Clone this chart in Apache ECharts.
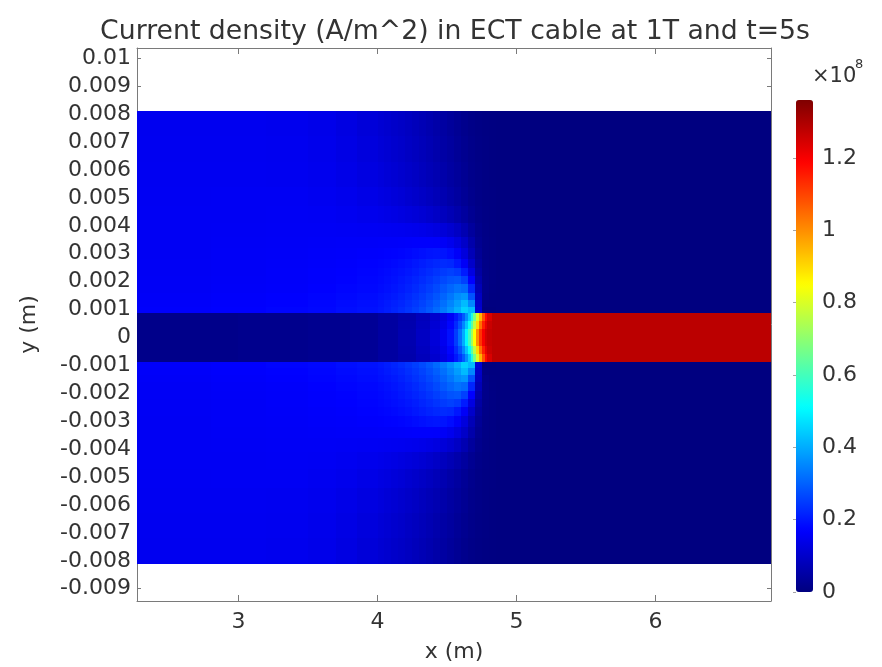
<!DOCTYPE html>
<html>
<head>
<meta charset="utf-8">
<script src="https://cdn.jsdelivr.net/npm/echarts@6/dist/echarts.min.js"></script>
<style>
html,body{margin:0;padding:0;background:#fff;}
#chart{width:882px;height:667px;}
</style>
</head>
<body>
<div id="chart"></div>
<script>
// ---- Data (current density in units of 1e8 A/m^2) ----
const xTicks = [3, 4, 5, 6];
const yTicks = [0.01, 0.009, 0.008, 0.007, 0.006, 0.005, 0.004, 0.003, 0.002, 0.001, 0,
  -0.001, -0.002, -0.003, -0.004, -0.005, -0.006, -0.007, -0.008, -0.009];
const colorTicks = [0, 0.2, 0.4, 0.6, 0.8, 1, 1.2];

// outer region (around the conductor): column edges in x (m)
const xEdgesOuter = [2.27, 2.8, 3.2, 3.5, 3.7, 3.85, 4.0,
  4.05, 4.1, 4.15, 4.2, 4.25, 4.3, 4.35, 4.4, 4.45, 4.5, 4.55, 4.6, 4.65, 4.7, 4.75, 4.8, 4.85,
  4.95, 5.1, 6.83];
// upper half row edges (top -> conductor surface)
const yEdgesUpper = [0.0081, 0.0072, 0.0063, 0.0054, 0.0047, 0.0041, 0.0036, 0.0032, 0.0028,
  0.0025, 0.0022, 0.0019, 0.0016, 0.00135, 0.0011, 0.00087];
const upperValues = [
  [0.15, 0.15, 0.148, 0.142, 0.132, 0.12, 0.112, 0.106, 0.1, 0.094, 0.087, 0.08, 0.072, 0.064, 0.055, 0.046, 0.037, 0.028, 0.019, 0.012, 0.008, 0.005, 0.004, 0.003, 0.002, 0.001],
  [0.152, 0.152, 0.15, 0.145, 0.136, 0.125, 0.117, 0.111, 0.105, 0.099, 0.092, 0.085, 0.077, 0.069, 0.06, 0.051, 0.042, 0.032, 0.022, 0.014, 0.009, 0.006, 0.004, 0.003, 0.002, 0.001],
  [0.153, 0.153, 0.152, 0.148, 0.14, 0.13, 0.123, 0.117, 0.111, 0.105, 0.098, 0.091, 0.083, 0.075, 0.066, 0.057, 0.047, 0.037, 0.026, 0.016, 0.01, 0.006, 0.004, 0.003, 0.002, 0.001],
  [0.154, 0.155, 0.155, 0.152, 0.146, 0.138, 0.132, 0.127, 0.121, 0.115, 0.108, 0.101, 0.093, 0.085, 0.076, 0.066, 0.055, 0.044, 0.031, 0.019, 0.011, 0.007, 0.005, 0.003, 0.002, 0.001],
  [0.155, 0.156, 0.157, 0.156, 0.152, 0.146, 0.142, 0.138, 0.134, 0.129, 0.124, 0.118, 0.111, 0.103, 0.094, 0.084, 0.072, 0.058, 0.042, 0.025, 0.013, 0.008, 0.005, 0.003, 0.002, 0.001],
  [0.155, 0.157, 0.158, 0.158, 0.157, 0.155, 0.154, 0.153, 0.152, 0.15, 0.148, 0.145, 0.141, 0.136, 0.129, 0.12, 0.108, 0.092, 0.068, 0.04, 0.018, 0.009, 0.005, 0.003, 0.002, 0.001],
  [0.156, 0.158, 0.16, 0.161, 0.162, 0.162, 0.163, 0.163, 0.164, 0.165, 0.166, 0.167, 0.168, 0.168, 0.166, 0.16, 0.148, 0.128, 0.098, 0.058, 0.024, 0.01, 0.006, 0.003, 0.002, 0.001],
  [0.156, 0.159, 0.161, 0.163, 0.165, 0.167, 0.169, 0.171, 0.173, 0.176, 0.18, 0.185, 0.19, 0.195, 0.198, 0.196, 0.185, 0.162, 0.125, 0.075, 0.03, 0.011, 0.006, 0.003, 0.002, 0.001],
  [0.157, 0.16, 0.162, 0.165, 0.168, 0.171, 0.174, 0.177, 0.181, 0.186, 0.192, 0.199, 0.207, 0.215, 0.222, 0.226, 0.222, 0.2, 0.16, 0.1, 0.038, 0.012, 0.006, 0.003, 0.002, 0.001],
  [0.157, 0.16, 0.163, 0.167, 0.17, 0.174, 0.178, 0.182, 0.187, 0.193, 0.2, 0.208, 0.218, 0.228, 0.238, 0.248, 0.255, 0.245, 0.205, 0.13, 0.048, 0.013, 0.006, 0.003, 0.002, 0.001],
  [0.158, 0.161, 0.164, 0.168, 0.172, 0.177, 0.181, 0.186, 0.192, 0.199, 0.207, 0.217, 0.228, 0.24, 0.253, 0.267, 0.28, 0.285, 0.255, 0.17, 0.06, 0.014, 0.006, 0.003, 0.002, 0.001],
  [0.158, 0.162, 0.165, 0.17, 0.175, 0.18, 0.185, 0.19, 0.197, 0.205, 0.214, 0.225, 0.238, 0.252, 0.268, 0.286, 0.305, 0.322, 0.31, 0.22, 0.075, 0.015, 0.005, 0.003, 0.002, 0.001],
  [0.161, 0.165, 0.169, 0.174, 0.179, 0.185, 0.191, 0.197, 0.204, 0.213, 0.223, 0.235, 0.249, 0.265, 0.283, 0.304, 0.328, 0.357, 0.37, 0.28, 0.09, 0.012, 0.004, 0.003, 0.002, 0.001],
  [0.164, 0.168, 0.172, 0.177, 0.183, 0.189, 0.196, 0.203, 0.211, 0.22, 0.231, 0.244, 0.259, 0.276, 0.296, 0.319, 0.346, 0.38, 0.42, 0.35, 0.1, 0.005, 0.002, 0.003, 0.002, 0.001],
  [0.166, 0.17, 0.175, 0.18, 0.187, 0.193, 0.2, 0.208, 0.217, 0.227, 0.239, 0.253, 0.269, 0.288, 0.31, 0.335, 0.365, 0.403, 0.45, 0.42, 0.11, 0.0, 0.0, 0.003, 0.002, 0.001]
];
// lower half row edges (conductor surface -> bottom)
const yEdgesLower = [-0.00087, -0.0011, -0.00135, -0.0016, -0.0019, -0.0022, -0.0025, -0.0028,
  -0.0032, -0.0036, -0.0041, -0.0047, -0.0054, -0.0063, -0.0072, -0.0081];
const lowerValues = [
  [0.166, 0.17, 0.175, 0.18, 0.187, 0.193, 0.2, 0.208, 0.217, 0.227, 0.239, 0.253, 0.269, 0.288, 0.31, 0.335, 0.365, 0.403, 0.45, 0.42, 0.11, 0.0, 0.0, 0.003, 0.002, 0.001],
  [0.164, 0.168, 0.172, 0.177, 0.183, 0.189, 0.196, 0.203, 0.211, 0.22, 0.231, 0.244, 0.259, 0.276, 0.296, 0.319, 0.346, 0.38, 0.42, 0.35, 0.1, 0.005, 0.002, 0.003, 0.002, 0.001],
  [0.161, 0.165, 0.169, 0.174, 0.179, 0.185, 0.191, 0.197, 0.204, 0.213, 0.223, 0.235, 0.249, 0.265, 0.283, 0.304, 0.328, 0.357, 0.37, 0.28, 0.09, 0.012, 0.004, 0.003, 0.002, 0.001],
  [0.158, 0.162, 0.165, 0.17, 0.175, 0.18, 0.185, 0.19, 0.197, 0.205, 0.214, 0.225, 0.238, 0.252, 0.268, 0.286, 0.305, 0.322, 0.31, 0.22, 0.075, 0.015, 0.005, 0.003, 0.002, 0.001],
  [0.158, 0.161, 0.164, 0.168, 0.172, 0.177, 0.181, 0.186, 0.192, 0.199, 0.207, 0.217, 0.228, 0.24, 0.253, 0.267, 0.28, 0.285, 0.255, 0.17, 0.06, 0.014, 0.006, 0.003, 0.002, 0.001],
  [0.157, 0.16, 0.163, 0.167, 0.17, 0.174, 0.178, 0.182, 0.187, 0.193, 0.2, 0.208, 0.218, 0.228, 0.238, 0.248, 0.255, 0.245, 0.205, 0.13, 0.048, 0.013, 0.006, 0.003, 0.002, 0.001],
  [0.157, 0.16, 0.162, 0.165, 0.168, 0.171, 0.174, 0.177, 0.181, 0.186, 0.192, 0.199, 0.207, 0.215, 0.222, 0.226, 0.222, 0.2, 0.16, 0.1, 0.038, 0.012, 0.006, 0.003, 0.002, 0.001],
  [0.156, 0.159, 0.161, 0.163, 0.165, 0.167, 0.169, 0.171, 0.173, 0.176, 0.18, 0.185, 0.19, 0.195, 0.198, 0.196, 0.185, 0.162, 0.125, 0.075, 0.03, 0.011, 0.006, 0.003, 0.002, 0.001],
  [0.156, 0.158, 0.16, 0.161, 0.162, 0.162, 0.163, 0.163, 0.164, 0.165, 0.166, 0.167, 0.168, 0.168, 0.166, 0.16, 0.148, 0.128, 0.098, 0.058, 0.024, 0.01, 0.006, 0.003, 0.002, 0.001],
  [0.155, 0.157, 0.158, 0.158, 0.157, 0.155, 0.154, 0.153, 0.152, 0.15, 0.148, 0.145, 0.141, 0.136, 0.129, 0.12, 0.108, 0.092, 0.068, 0.04, 0.018, 0.009, 0.005, 0.003, 0.002, 0.001],
  [0.155, 0.156, 0.157, 0.156, 0.152, 0.146, 0.142, 0.138, 0.134, 0.129, 0.124, 0.118, 0.111, 0.103, 0.094, 0.084, 0.072, 0.058, 0.042, 0.025, 0.013, 0.008, 0.005, 0.003, 0.002, 0.001],
  [0.154, 0.155, 0.155, 0.152, 0.146, 0.138, 0.132, 0.127, 0.121, 0.115, 0.108, 0.101, 0.093, 0.085, 0.076, 0.066, 0.055, 0.044, 0.031, 0.019, 0.011, 0.007, 0.005, 0.003, 0.002, 0.001],
  [0.153, 0.153, 0.152, 0.148, 0.14, 0.13, 0.123, 0.117, 0.111, 0.105, 0.098, 0.091, 0.083, 0.075, 0.066, 0.057, 0.047, 0.037, 0.026, 0.016, 0.01, 0.006, 0.004, 0.003, 0.002, 0.001],
  [0.152, 0.152, 0.15, 0.145, 0.136, 0.125, 0.117, 0.111, 0.105, 0.099, 0.092, 0.085, 0.077, 0.069, 0.06, 0.051, 0.042, 0.032, 0.022, 0.014, 0.009, 0.006, 0.004, 0.003, 0.002, 0.001],
  [0.15, 0.15, 0.148, 0.142, 0.132, 0.12, 0.112, 0.106, 0.1, 0.094, 0.087, 0.08, 0.072, 0.064, 0.055, 0.046, 0.037, 0.028, 0.019, 0.012, 0.008, 0.005, 0.004, 0.003, 0.002, 0.001]
];
// conductor (core) region
const xEdgesCore = [2.27, 3.0, 3.5, 3.8, 4.0, 4.15, 4.28, 4.38, 4.45, 4.5, 4.55, 4.58, 4.61, 4.63,
  4.65, 4.67, 4.69, 4.71, 4.73, 4.75, 4.77, 4.79, 4.82, 6.83];
const yEdgesCore = [0.00087, 0.0006, 0.0003, -0.0003, -0.0006, -0.00087];
const coreValues = [
  [0.015, 0.018, 0.022, 0.03, 0.045, 0.06, 0.08, 0.105, 0.13, 0.16, 0.2, 0.24, 0.29, 0.36, 0.44, 0.55, 0.67, 0.8, 0.95, 1.08, 1.18, 1.24, 1.28],
  [0.015, 0.018, 0.022, 0.03, 0.045, 0.063, 0.085, 0.113, 0.14, 0.175, 0.225, 0.28, 0.35, 0.43, 0.52, 0.63, 0.76, 0.9, 1.04, 1.15, 1.22, 1.26, 1.28],
  [0.015, 0.018, 0.022, 0.03, 0.045, 0.065, 0.09, 0.12, 0.15, 0.19, 0.25, 0.32, 0.4, 0.5, 0.6, 0.72, 0.85, 1.0, 1.12, 1.2, 1.25, 1.27, 1.28],
  [0.015, 0.018, 0.022, 0.03, 0.045, 0.063, 0.085, 0.113, 0.14, 0.175, 0.225, 0.28, 0.35, 0.43, 0.52, 0.63, 0.76, 0.9, 1.04, 1.15, 1.22, 1.26, 1.28],
  [0.015, 0.018, 0.022, 0.03, 0.045, 0.06, 0.08, 0.105, 0.13, 0.16, 0.2, 0.24, 0.29, 0.36, 0.44, 0.55, 0.67, 0.8, 0.95, 1.08, 1.18, 1.24, 1.28]
];
const colorMin = 0;
const colorMax = 1.36;

// ---- Build cells [x0, x1, y0, y1, value] ----
function cells(xE, yE, vals) {
  const out = [];
  for (let i = 0; i < vals.length; i++) {
    for (let j = 0; j < vals[i].length; j++) {
      out.push([xE[j], xE[j + 1], yE[i], yE[i + 1], vals[i][j]]);
    }
  }
  return out;
}
const cellData = [].concat(
  cells(xEdgesOuter, yEdgesUpper, upperValues),
  cells(xEdgesOuter, yEdgesLower, lowerValues),
  cells(xEdgesCore, yEdgesCore, coreValues)
);

const FONT = 'DejaVu Sans';
const TXT = '#333';
const AX = '#7a7a7a';
const fmtY = v => String(+(+v).toFixed(3));

const chart = echarts.init(document.getElementById('chart'), null, {renderer: 'canvas'});
chart.setOption({
  animation: false,
  backgroundColor: '#fff',
  textStyle: {fontFamily: FONT},
  grid: [
    {left: 137, top: 48, width: 634, height: 553, containLabel: false, outerBoundsMode: 'none'},
    {left: 796, top: 100, width: 17, height: 492, containLabel: false, outerBoundsMode: 'none'}
  ],
  xAxis: [
    {type: 'value', gridIndex: 0, min: 2.27, max: 6.83, position: 'bottom',
     name: 'x (m)', nameLocation: 'middle', nameGap: 40,
     nameTextStyle: {fontFamily: FONT, fontSize: 22, color: TXT},
     axisLine: {show: true, onZero: false, lineStyle: {color: AX, width: 1}},
     axisTick: {show: true, inside: true, length: 6, customValues: xTicks, lineStyle: {color: AX}},
     axisLabel: {show: true, customValues: xTicks, fontFamily: FONT, fontSize: 22, color: TXT, margin: 10},
     splitLine: {show: false}},
    {type: 'value', gridIndex: 0, min: 2.27, max: 6.83, position: 'top',
     axisLine: {show: true, onZero: false, lineStyle: {color: AX, width: 1}},
     axisTick: {show: true, inside: true, length: 6, customValues: xTicks, lineStyle: {color: AX}},
     axisLabel: {show: false}, splitLine: {show: false}},
    {type: 'value', gridIndex: 1, min: 0, max: 1, show: false}
  ],
  yAxis: [
    {type: 'value', gridIndex: 0, min: -0.00944, max: 0.01037, position: 'left',
     name: 'y (m)', nameLocation: 'middle', nameGap: 97, nameRotate: 90,
     nameTextStyle: {fontFamily: FONT, fontSize: 22, color: TXT},
     axisLine: {show: true, onZero: false, lineStyle: {color: AX, width: 1}},
     axisTick: {show: true, inside: true, length: 4, customValues: yTicks, lineStyle: {color: AX}},
     axisLabel: {show: true, customValues: yTicks, formatter: fmtY, fontFamily: FONT, fontSize: 22, color: TXT, margin: 6},
     splitLine: {show: false}},
    {type: 'value', gridIndex: 0, min: -0.00944, max: 0.01037, position: 'right',
     axisLine: {show: true, onZero: false, lineStyle: {color: AX, width: 1}},
     axisTick: {show: true, inside: true, length: 4, customValues: yTicks, lineStyle: {color: AX}},
     axisLabel: {show: false}, splitLine: {show: false}},
    {type: 'value', gridIndex: 1, min: colorMin, max: colorMax, position: 'right',
     axisLine: {show: false},
     axisTick: {show: true, inside: true, length: 3, customValues: colorTicks, lineStyle: {color: 'rgba(0,0,0,0.35)'}},
     axisLabel: {show: true, customValues: colorTicks, formatter: v => String(+(+v).toFixed(1)), fontFamily: FONT, fontSize: 22, color: TXT, margin: 9},
     splitLine: {show: false}}
  ],
  visualMap: {
    type: 'continuous', min: colorMin, max: colorMax, dimension: 4, seriesIndex: 0,
    calculable: false, show: true, orient: 'vertical', padding: 0,
    left: 796, top: 100, itemWidth: 17, itemHeight: 492,
    text: null, showLabel: false, hoverLink: false,
    inRange: {color: ['#00007f', '#0000ff', '#007fff', '#00ffff', '#7fff7f', '#ffff00', '#ff7f00', '#ff0000', '#7f0000']}
  },
  graphic: [
    {type: 'text', x: 455, y: 32, style: {text: 'Current density (A/m^2) in ECT cable at 1T and t=5s', font: '26.7px "DejaVu Sans"', fill: TXT, textAlign: 'center', textVerticalAlign: 'middle'}},
    {type: 'text', x: 812, y: 66, style: {text: '×10', font: '21px "DejaVu Sans"', fill: TXT}},
    {type: 'text', x: 855, y: 58, style: {text: '8', font: '13px "DejaVu Sans"', fill: TXT}}
  ],
  series: [{
    type: 'custom',
    xAxisIndex: 0, yAxisIndex: 0,
    encode: {x: [0, 1], y: [2, 3]},
    renderItem: function (params, api) {
      const p0 = api.coord([api.value(0), api.value(2)]);
      const p1 = api.coord([api.value(1), api.value(3)]);
      const x0 = Math.round(Math.min(p0[0], p1[0]));
      const x1 = Math.round(Math.max(p0[0], p1[0]));
      const y0 = Math.round(Math.min(p0[1], p1[1]));
      const y1 = Math.round(Math.max(p0[1], p1[1]));
      return {type: 'rect', shape: {x: x0, y: y0, width: x1 - x0, height: y1 - y0},
        style: {fill: api.visual('color'), stroke: null}};
    },
    data: cellData,
    z: 1
  }]
});
</script>
</body>
</html>
